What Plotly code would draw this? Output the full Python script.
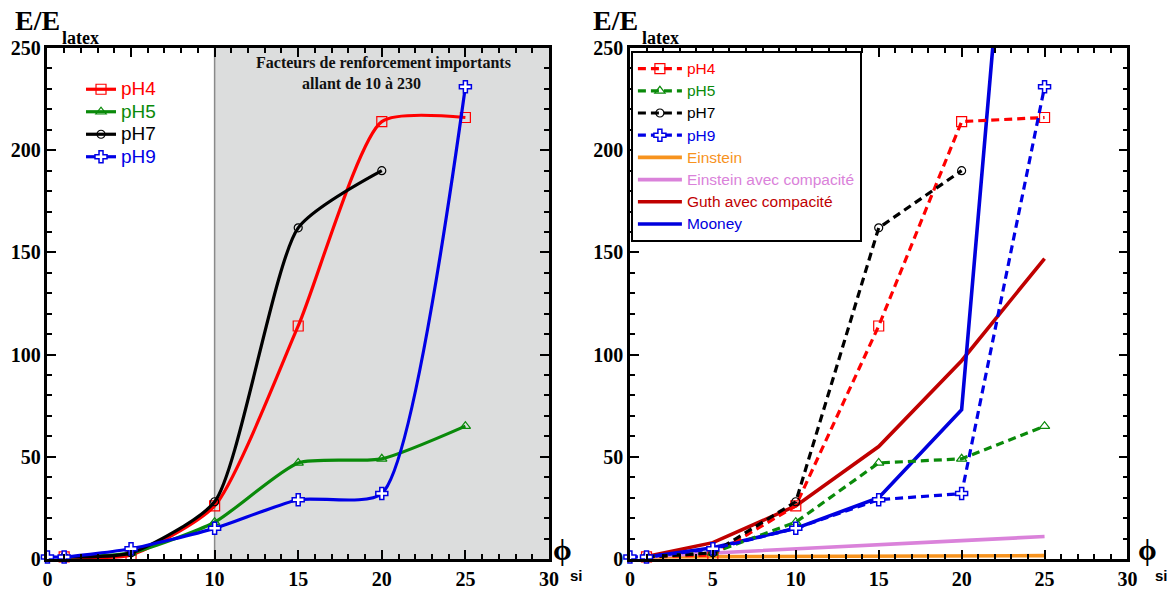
import plotly.graph_objects as go

W, H = 1175, 590
TOP, BOT = 48, 559

# ---------------- data ----------------
x_ph4 = [1, 5, 10, 15, 20, 25]
y_ph4 = [1, 2, 26, 114, 214, 216]
x_ph5 = [1, 5, 10, 15, 20, 25]
y_ph5 = [1, 3, 18, 47, 49, 65]
x_ph7 = [1, 5, 10, 15, 20]
y_ph7 = [1, 3, 28, 162, 190]
x_ph9 = [0, 1, 5, 10, 15, 20, 25]
y_ph9 = [1, 1, 5, 15, 29, 32, 231]

x_model = [1, 5, 10, 15, 20, 25]
y_einstein = [1.03, 1.13, 1.25, 1.38, 1.5, 1.63]
y_einstein_c = [1.3, 3, 5, 7.3, 9, 11]
y_guth_c = [1.2, 8, 26, 55, 97, 147]
y_mooney = [1, 5.5, 15, 30, 73, 545]

x_ticks = [0, 5, 10, 15, 20, 25, 30]
y_ticks = [0, 50, 100, 150, 200, 250]

RED, GREEN, BLACK, BLUE = "#ff0000", "#0a8a0a", "#000000", "#0000e6"
ORANGE, PINK, DRED, MBLUE = "#f7931e", "#da82da", "#c00000", "#0000dd"


def px_x(p):
    return p / W


def px_y(p):
    return (BOT - p) / (BOT - TOP)


def cname(txt, col, size):
    return f'<span style="color:{col};font-size:{size}px">{txt}</span>'


series = [
    ("pH4", x_ph4, y_ph4, RED, dict(symbol="square-open", size=10, color=RED, line=dict(width=1.2))),
    ("pH5", x_ph5, y_ph5, GREEN, dict(symbol="triangle-up-open", size=9, color=GREEN, line=dict(width=1.2))),
    ("pH7", x_ph7, y_ph7, BLACK, dict(symbol="circle-open", size=8, color=BLACK, line=dict(width=1.2))),
    ("pH9", x_ph9, y_ph9, BLUE, dict(symbol="cross", size=10, color="white", line=dict(width=1.5, color=BLUE))),
]

traces = []
# left chart: smoothed curves
for name, xs, ys, col, mk in series:
    traces.append(go.Scatter(
        x=xs, y=ys, mode="lines+markers", name=cname(name, col, 19),
        line=dict(color=col, width=3.2, shape="spline", smoothing=0.6),
        marker=mk, cliponaxis=False, xaxis="x", yaxis="y", legend="legend",
        legendgroup="L" + name,
    ))

models = [
    ("Einstein", y_einstein, ORANGE),
    ("Einstein avec compacité", y_einstein_c, PINK),
    ("Guth avec compacité", y_guth_c, DRED),
    ("Mooney", y_mooney, MBLUE),
]
model_traces = []
for i, (name, ys, col) in enumerate(models):
    model_traces.append(go.Scatter(
        x=x_model, y=ys, mode="lines", name=cname(name, col, 15.5),
        line=dict(color=col, width=3.6),
        xaxis="x2", yaxis="y2", legend="legend2", legendgroup="R" + name,
        legendrank=1000 + i,
    ))

exp_traces = []
for i, (name, xs, ys, col, mk) in enumerate(series):
    exp_traces.append(go.Scatter(
        x=xs, y=ys, mode="lines+markers", name=cname(name, col, 15.5),
        line=dict(color=col, width=3.2, dash="8px,5px"),
        marker=mk, cliponaxis=False, xaxis="x2", yaxis="y2", legend="legend2",
        legendgroup="R" + name, legendrank=100 + i,
    ))

fig = go.Figure(data=traces + model_traces + exp_traces)

tickfont = dict(family="Liberation Serif", size=20, color="black", weight="bold")


def xax(domain, anchor):
    return dict(domain=domain, anchor=anchor, range=[0, 30], tickvals=x_ticks,
                showline=True, linecolor="black", linewidth=2.5, mirror="allticks",
                ticks="inside", ticklen=9, tickwidth=2, tickcolor="black",
                showgrid=False, zeroline=False, tickfont=tickfont,
                minor=dict(ticks="inside", ticklen=5, tickwidth=2, dtick=1,
                           tick0=0, tickcolor="black", showgrid=False))


def yax(anchor):
    return dict(domain=[0, 1], anchor=anchor, range=[0, 250], tickvals=y_ticks,
                showline=True, linecolor="black", linewidth=2.5, mirror="allticks",
                ticks="inside", ticklen=9, tickwidth=2, tickcolor="black",
                showgrid=False, zeroline=False, tickfont=tickfont,
                minor=dict(ticks="inside", ticklen=5, tickwidth=2, dtick=10,
                           tick0=0, tickcolor="black", showgrid=False))


annotations = []
# axis titles
for base, lat in ((8, 56), (594, 643)):
    annotations.append(dict(xref="paper", yref="paper", x=px_x(base), y=px_y(20),
                            xanchor="left", yanchor="middle", showarrow=False,
                            text="E/E", font=dict(family="Liberation Serif", size=28,
                                                  color="black", weight="bold")))
    annotations.append(dict(xref="paper", yref="paper", x=px_x(lat), y=px_y(38),
                            xanchor="left", yanchor="middle", showarrow=False,
                            text="latex", font=dict(family="Liberation Serif", size=18,
                                                    color="black", weight="bold")))
for base in (553, 1146):
    annotations.append(dict(xref="paper", yref="paper", x=px_x(base), y=px_y(549),
                            xanchor="left", yanchor="middle", showarrow=False,
                            text="ϕ", font=dict(family="Liberation Serif", size=30,
                                                color="black", weight="bold")))
    annotations.append(dict(xref="paper", yref="paper", x=px_x(base + 17), y=px_y(575),
                            xanchor="left", yanchor="middle", showarrow=False,
                            text="si", font=dict(family="Liberation Sans", size=15,
                                                 color="black", weight="bold")))
annotations.append(dict(xref="paper", yref="paper", x=px_x(383), y=px_y(63),
                        xanchor="center", yanchor="middle", showarrow=False,
                        text="Facteurs de renforcement importants",
                        font=dict(family="Liberation Serif", size=16, color="#111", weight="bold")))
annotations.append(dict(xref="paper", yref="paper", x=px_x(361), y=px_y(83),
                        xanchor="center", yanchor="middle", showarrow=False,
                        text="allant de 10 à 230",
                        font=dict(family="Liberation Serif", size=16, color="#111", weight="bold")))

shapes = [
    dict(type="rect", xref="x", yref="y", x0=10, x1=30, y0=0, y1=250,
         fillcolor="#dcdddd", line=dict(width=0), layer="below"),
    dict(type="line", xref="x", yref="y", x0=10, x1=10, y0=0, y1=250,
         line=dict(color="#8a8a8a", width=1.5), layer="below"),
]

fig.update_layout(
    width=W, height=H,
    margin=dict(l=0, r=0, t=TOP, b=H - BOT, pad=0),
    paper_bgcolor="white", plot_bgcolor="white",
    xaxis=xax([43 / W, 551 / W], "y"),
    yaxis=yax("x"),
    xaxis2=xax([633 / W, 1137 / W], "y2"),
    yaxis2=yax("x2"),
    annotations=annotations,
    shapes=shapes,
    showlegend=True,
    legend=dict(x=px_x(77), y=px_y(73), xanchor="left", yanchor="top",
                bgcolor="rgba(0,0,0,0)", borderwidth=0,
                font=dict(family="Liberation Sans", size=15, color="black"),
                tracegroupgap=0, itemclick=False),
    legend2=dict(x=px_x(634), y=px_y(51), xanchor="left", yanchor="top",
                 bgcolor="white", bordercolor="black", borderwidth=2,
                 font=dict(family="Liberation Sans", size=14, color="black"),
                 tracegroupgap=1, itemwidth=44),
)

fig.write_html("out.html", config={"displayModeBar": False},
               post_script="document.body.style.margin='0px';document.body.style.overflow='hidden';")
